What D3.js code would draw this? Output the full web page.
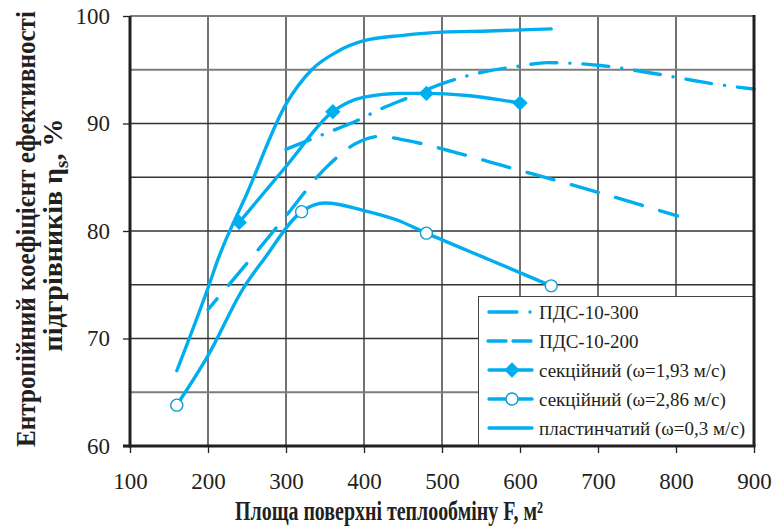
<!DOCTYPE html>
<html>
<head>
<meta charset="utf-8">
<script src="https://cdn.jsdelivr.net/npm/d3@7"></script>
<style>
  html, body { margin: 0; padding: 0; background: #fff; }
  svg { display: block; }
</style>
</head>
<body>
<svg id="chart" width="772" height="527"></svg>
<script>
// Heat-exchange surface F (m²) and entropy efficiency η_s (%) for each heater type
const pds300F   = [300, 348, 398, 414, 460, 496, 547, 600, 635, 669, 703, 776, 847, 900];
const pds300Eta = [87.6, 89.0, 90.5, 91.1, 92.5, 93.6, 94.7, 95.35, 95.66, 95.6, 95.4, 94.6, 93.7, 93.2];

const pds200F   = [200, 250, 300, 350, 394, 420, 456, 518, 577, 700, 802];
const pds200Eta = [72.7, 77.0, 81.4, 85.8, 88.3, 88.8, 88.4, 87.3, 86.1, 83.6, 81.4];

const sec193F   = [240, 300, 360, 400, 447, 480, 532, 575, 600];
const sec193Eta = [80.8, 86.0, 91.1, 92.45, 92.8, 92.8, 92.6, 92.2, 91.9];
const sec193MarkF   = [240, 360, 480, 600];
const sec193MarkEta = [80.8, 91.1, 92.8, 91.9];

const sec286F   = [160, 200, 246, 272, 320, 350, 400, 443, 480, 560, 640];
const sec286Eta = [63.8, 68.4, 74.75, 77.4, 81.8, 82.6, 81.9, 81.0, 79.8, 77.35, 74.9];
const sec286MarkF   = [160, 320, 480, 640];
const sec286MarkEta = [63.8, 81.8, 79.8, 74.9];

const plateF   = [160, 200, 213, 250, 300, 333, 366, 400, 450, 500, 560, 640];
const plateEta = [67.0, 74.7, 77.4, 83.5, 91.8, 95.0, 96.7, 97.7, 98.2, 98.5, 98.6, 98.8];

const xTicks = [100, 200, 300, 400, 500, 600, 700, 800, 900];
const yTicks = [60, 70, 80, 90, 100];
const yGrid  = [65, 70, 75, 80, 85, 90, 95];

const legendLabels = [
  "ПДС-10-300",
  "ПДС-10-200",
  "секційний (ω=1,93 м/с)",
  "секційний (ω=2,86 м/с)",
  "пластинчатий (ω=0,3 м/с)"
];

const BLUE = "#00aeef";
const INK = "#231f20";
const SERIF = "'Liberation Serif', 'Times New Roman', serif";

const svg = d3.select("#chart");
const x = d3.scaleLinear().domain([100, 900]).range([130, 754]);
const y = d3.scaleLinear().domain([60, 100]).range([446, 16]);

// grid
const grid = svg.append("g");
grid.selectAll("line.v").data(xTicks.slice(1, -1)).join("line")
  .attr("x1", d => x(d)).attr("x2", d => x(d))
  .attr("y1", y(100)).attr("y2", y(60))
  .attr("stroke", "#262626").attr("stroke-width", 1.3);
grid.selectAll("line.h").data(yGrid).join("line")
  .attr("x1", x(100)).attr("x2", x(900))
  .attr("y1", d => y(d)).attr("y2", d => y(d))
  .attr("stroke", d => d === 95 || d === 65 ? "#7d7d7d" : "#333")
  .attr("stroke-width", d => d === 95 || d === 65 ? 2.2 : 1.5);

// series
const line = d3.line().x(d => x(d[0])).y(d => y(d[1])).curve(d3.curveMonotoneX);
const zip = (a, b) => a.map((v, i) => [v, b[i]]);

const series = [
  { pts: zip(pds300F, pds300Eta), dash: "26,13,0.1,13", off: 0 },
  { pts: zip(pds200F, pds200Eta), dash: "28,18", off: 14 },
  { pts: zip(sec193F, sec193Eta), dash: null, off: 0 },
  { pts: zip(sec286F, sec286Eta), dash: null, off: 0 },
  { pts: zip(plateF, plateEta), dash: null, off: 0 }
];

const lines = svg.append("g");
series.forEach(s => {
  lines.append("path")
    .attr("d", line(s.pts))
    .attr("fill", "none")
    .attr("stroke", BLUE)
    .attr("stroke-width", 3.4)
    .attr("stroke-linecap", "round")
    .attr("stroke-linejoin", "round")
    .attr("stroke-dasharray", s.dash)
    .attr("stroke-dashoffset", s.off);
});

const diamond = d3.symbol().type(d3.symbolDiamond2).size(150);
lines.selectAll("path.dia").data(zip(sec193MarkF, sec193MarkEta)).join("path")
  .attr("d", diamond)
  .attr("transform", d => `translate(${x(d[0])},${y(d[1])})`)
  .attr("fill", BLUE);

lines.selectAll("circle.open").data(zip(sec286MarkF, sec286MarkEta)).join("circle")
  .attr("cx", d => x(d[0])).attr("cy", d => y(d[1]))
  .attr("r", 6)
  .attr("fill", "#fff")
  .attr("stroke", "#0e9bd6")
  .attr("stroke-width", 1.4);

// legend
const lg = svg.append("g");
lg.append("rect")
  .attr("x", 478.5).attr("y", 296.5).attr("width", 275).attr("height", 149)
  .attr("fill", "#fff").attr("stroke", "#444").attr("stroke-width", 1);

const rowY = i => 312 + i * 29;
legendLabels.forEach((lab, i) => {
  const yy = rowY(i);
  const g = lg.append("g");
  if (i === 0) {
    g.append("line").attr("x1", 489).attr("x2", 517).attr("y1", yy).attr("y2", yy);
    g.append("circle").attr("cx", 530).attr("cy", yy).attr("r", 1.7).attr("fill", BLUE);
  } else if (i === 1) {
    g.append("line").attr("x1", 488).attr("x2", 506).attr("y1", yy).attr("y2", yy);
    g.append("line").attr("x1", 513).attr("x2", 531).attr("y1", yy).attr("y2", yy);
  } else {
    g.append("line").attr("x1", 489).attr("x2", 532).attr("y1", yy).attr("y2", yy);
  }
  g.selectAll("line").attr("stroke", BLUE).attr("stroke-width", 3.4).attr("stroke-linecap", "round");
  if (i === 2) {
    g.append("path").attr("d", diamond).attr("transform", `translate(512,${yy})`).attr("fill", BLUE);
  }
  if (i === 3) {
    g.append("circle").attr("cx", 512).attr("cy", yy).attr("r", 6)
      .attr("fill", "#fff").attr("stroke", "#0e9bd6").attr("stroke-width", 1.4);
  }
  g.append("text")
    .attr("x", 539).attr("y", yy + 6.5)
    .attr("font-family", SERIF).attr("font-size", 19)
    .attr("fill", INK)
    .text(lab);
});

// frame and axes
const frame = svg.append("g");
frame.append("line").attr("x1", x(100)).attr("x2", x(900)).attr("y1", y(100)).attr("y2", y(100))
  .attr("stroke", "#7d7d7d").attr("stroke-width", 2.2);
frame.append("line").attr("x1", x(900)).attr("x2", x(900)).attr("y1", y(100) - 1).attr("y2", y(60))
  .attr("stroke", "#231f20").attr("stroke-width", 3);

const xAxis = svg.append("g").attr("transform", `translate(0,${y(60)})`)
  .call(d3.axisBottom(x).tickValues(xTicks).tickSize(7).tickPadding(20).tickFormat(d3.format("d")));
const yAxis = svg.append("g").attr("transform", `translate(${x(100)},0)`)
  .call(d3.axisLeft(y).tickValues(yTicks).tickSize(7).tickPadding(13).tickFormat(d3.format("d")));

[xAxis, yAxis].forEach(a => {
  a.select(".domain").attr("stroke", "#231f20").attr("stroke-width", 3);
  a.selectAll(".tick line").attr("stroke", "#231f20").attr("stroke-width", 1.3);
  a.selectAll(".tick text").attr("font-family", SERIF).attr("font-size", 23).attr("fill", INK);
});
xAxis.select(".domain").attr("d", `M${x(100) - 7},0H${x(900) + 1.5}`);
yAxis.select(".domain").attr("d", `M0,${y(100)}V${y(60) + 1.5}`);

// axis titles: condensed bold serif, squeezed along the reading direction to a set length
function squeeze(sel, cx, cy, angle, target) {
  const len = sel.node().getComputedTextLength();
  const k = Math.min(1, target / len);
  sel.attr("transform", `translate(${cx},${cy}) rotate(${angle}) scale(${k},1)`);
}

const xt = svg.append("text")
  .attr("text-anchor", "middle")
  .attr("font-family", SERIF).attr("font-weight", "bold").attr("font-size", 27)
  .attr("fill", INK)
  .text("Площа поверхні теплообміну F, м²");
squeeze(xt, 389, 520, 0, 308);

const yt = svg.append("text")
  .attr("text-anchor", "middle")
  .attr("font-family", SERIF).attr("font-weight", "bold").attr("font-size", 28)
  .attr("fill", INK)
  .text("Ентропійний коефіцієнт ефективності");
squeeze(yt, 35, 229, -90, 436);

const yt2 = svg.append("text")
  .attr("text-anchor", "middle")
  .attr("font-family", SERIF).attr("font-weight", "bold").attr("font-size", 28)
  .attr("fill", INK);
yt2.append("tspan").text("підгрівників η");
yt2.append("tspan").attr("font-size", 19).attr("dy", 6).text("s");
yt2.append("tspan").attr("dy", -6).text(", %");
squeeze(yt2, 62, 235, -90, 270);
</script>
</body>
</html>
